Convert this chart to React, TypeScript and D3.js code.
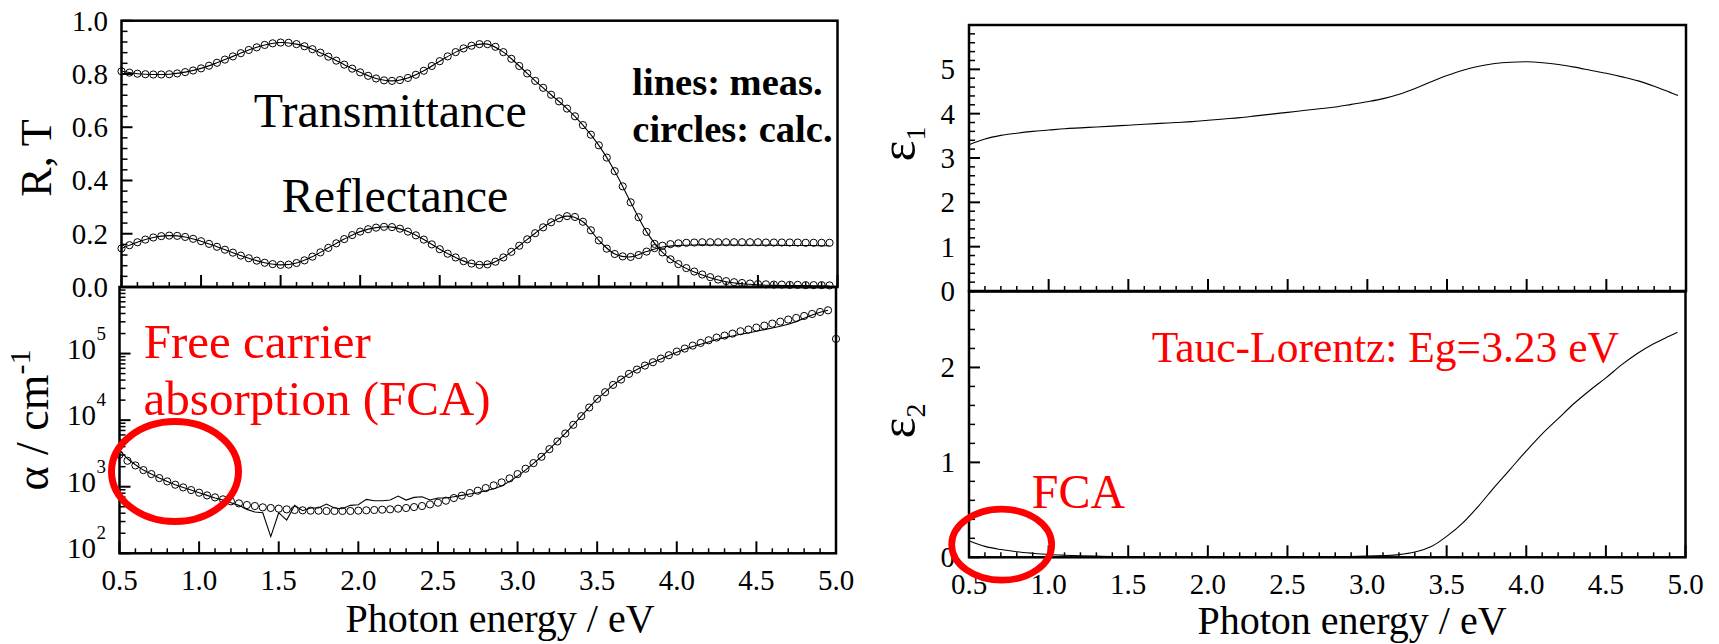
import React from "react";
import * as d3 from "d3";

const SERIF = "Liberation Serif, Times New Roman, Times, serif";
const RED = "#ff0000";

// ---- sampling grids (photon energy, eV) ----
const E_CALC: number[] = d3.range(90).map((i) => 0.5 + i * 0.05); // 0.50 … 4.95
const E_ALPHA_CALC: number[] = d3.range(91).map((i) => 0.5 + i * 0.05); // 0.50 … 5.00
const E_ALPHA_MEAS: number[] = E_CALC;
const E_MEAS: number[] = [...d3.range(45).map((i) => 0.5 + i * 0.1), 4.95];

// ---- tick labels ----
const X_TICKS = [0.5, 1.0, 1.5, 2.0, 2.5, 3.0, 3.5, 4.0, 4.5, 5.0];
const RT_TICKS = [0, 0.2, 0.4, 0.6, 0.8, 1.0];
const ALPHA_DECADES = [2, 3, 4, 5];
const EPS1_TICKS = [0, 1, 2, 3, 4, 5];
const EPS2_TICKS = [0, 1, 2];

// ---- transmittance / reflectance, calculated (circles) ----
const T_CALC = [
  0.810, 0.805, 0.801, 0.799, 0.798, 0.798, 0.799, 0.802, 0.807, 0.813,
  0.821, 0.831, 0.842, 0.854, 0.866, 0.878, 0.890, 0.900, 0.909, 0.915,
  0.918, 0.917, 0.912, 0.904, 0.893, 0.880, 0.865, 0.850, 0.835, 0.820,
  0.806, 0.793, 0.783, 0.776, 0.774, 0.777, 0.785, 0.797, 0.812, 0.830,
  0.848, 0.866, 0.882, 0.896, 0.906, 0.912, 0.912, 0.902, 0.882, 0.857,
  0.830, 0.802, 0.774, 0.748, 0.722, 0.697, 0.670, 0.641, 0.608, 0.572,
  0.532, 0.486, 0.435, 0.378, 0.318, 0.262, 0.207, 0.162, 0.130, 0.104,
  0.086, 0.071, 0.058, 0.047, 0.037, 0.028, 0.022, 0.018, 0.015, 0.013,
  0.011, 0.010, 0.009, 0.009, 0.008, 0.008, 0.007, 0.007, 0.007, 0.006,
];
const R_CALC = [
  0.145, 0.157, 0.168, 0.178, 0.186, 0.191, 0.193, 0.192, 0.188, 0.181,
  0.172, 0.162, 0.151, 0.140, 0.129, 0.118, 0.108, 0.099, 0.091, 0.086,
  0.083, 0.084, 0.090, 0.100, 0.114, 0.130, 0.147, 0.164, 0.180, 0.195,
  0.208, 0.217, 0.223, 0.226, 0.225, 0.219, 0.208, 0.194, 0.178, 0.160,
  0.142, 0.125, 0.111, 0.097, 0.088, 0.083, 0.085, 0.095, 0.111, 0.132,
  0.155, 0.179, 0.202, 0.224, 0.243, 0.258, 0.266, 0.263, 0.245, 0.213,
  0.175, 0.144, 0.124, 0.115, 0.113, 0.120, 0.133, 0.146, 0.155, 0.161,
  0.164, 0.166, 0.167, 0.168, 0.168, 0.168, 0.168, 0.168, 0.168, 0.168,
  0.168, 0.167, 0.167, 0.167, 0.167, 0.167, 0.166, 0.166, 0.166, 0.166,
];

// ---- transmittance / reflectance, measured (lines) ----
const T_MEAS = [
  0.810, 0.801, 0.798, 0.799, 0.807, 0.821, 0.842, 0.866, 0.890, 0.909,
  0.918, 0.912, 0.893, 0.865, 0.835, 0.806, 0.783, 0.774, 0.785, 0.812,
  0.848, 0.882, 0.906, 0.912, 0.882, 0.830, 0.774, 0.722, 0.670, 0.608,
  0.532, 0.435, 0.318, 0.207, 0.130, 0.086, 0.056, 0.035, 0.020, 0.012,
  0.008, 0.006, 0.005, 0.005, 0.004, 0.004,
];
const R_MEAS = [
  0.145, 0.168, 0.186, 0.193, 0.188, 0.172, 0.151, 0.129, 0.108, 0.091,
  0.083, 0.090, 0.114, 0.147, 0.180, 0.208, 0.223, 0.225, 0.208, 0.178,
  0.142, 0.111, 0.088, 0.085, 0.111, 0.155, 0.202, 0.243, 0.266, 0.245,
  0.175, 0.124, 0.113, 0.133, 0.150, 0.156, 0.158, 0.158, 0.158, 0.157,
  0.157, 0.157, 0.156, 0.156, 0.155, 0.155,
];

// ---- absorption coefficient (cm^-1) ----
const ALPHA_CALC = [
  3020, 2455, 2089, 1778, 1549, 1349, 1202, 1072, 977, 891,
  813, 741, 692, 646, 603, 562, 531, 513, 490, 479,
  468, 457, 447, 442, 437, 437, 432, 432, 432, 432,
  437, 442, 447, 452, 457, 468, 479, 495, 513, 543,
  575, 617, 676, 733, 804, 871, 955, 1047, 1161, 1334,
  1549, 1862, 2265, 2818, 3673, 4786, 6310, 8511, 11480, 15490,
  20890, 26300, 33880, 40740, 49550, 57540, 66070, 74130, 84140, 94410,
  107200, 118900, 131800, 144500, 158500, 173800, 186200, 199500, 216300, 229100,
  245500, 263000, 281800, 302000, 323600, 342800, 367300, 393600, 421700, 446700,
  166000,
];
const ALPHA_MEAS = [
  3548, 2630, 2138, 1778, 1549, 1349, 1202, 1072, 977, 891,
  813, 741, 676, 631, 575, 525, 457, 417, 407, 178,
  407, 316, 525, 437, 479, 479, 550, 479, 468, 525,
  537, 646, 617, 617, 631, 724, 631, 692, 708, 631,
  676, 676, 708, 741, 776, 813, 871, 933, 1023, 1202,
  1445, 1778, 2239, 2818, 3673, 4786, 6310, 8511, 11480, 15490,
  20890, 26300, 33880, 40740, 49550, 57540, 66070, 74130, 83180, 93330,
  104700, 116100, 127400, 138000, 149600, 162200, 173800, 184100, 195000, 204200,
  216300, 229100, 242700, 257000, 275400, 302000, 338800, 380200, 416900, 446700,
];

// ---- dielectric function ----
const EPS1 = [
  3.30, 3.43, 3.51, 3.56, 3.60, 3.63, 3.66, 3.68, 3.70, 3.72,
  3.74, 3.76, 3.78, 3.80, 3.82, 3.85, 3.88, 3.91, 3.95, 3.99,
  4.03, 4.07, 4.11, 4.15, 4.21, 4.27, 4.34, 4.44, 4.57, 4.72,
  4.86, 4.98, 5.07, 5.13, 5.16, 5.17, 5.15, 5.11, 5.05, 4.98,
  4.91, 4.83, 4.74, 4.62, 4.48, 4.41,
];
const EPS2 = [
  0.175, 0.115, 0.082, 0.059, 0.043, 0.030, 0.022, 0.016, 0.012, 0.009,
  0.007, 0.006, 0.005, 0.004, 0.004, 0.004, 0.004, 0.004, 0.004, 0.004,
  0.004, 0.005, 0.006, 0.007, 0.009, 0.012, 0.018, 0.028, 0.055, 0.110,
  0.220, 0.360, 0.540, 0.740, 0.930, 1.120, 1.300, 1.460, 1.620, 1.760,
  1.890, 2.030, 2.150, 2.250, 2.330, 2.370,
];

type Box = { x0: number; x1: number; y0: number; y1: number };

const LT: Box = { x0: 121.5, x1: 837.5, y0: 20.7, y1: 287 };
const LB: Box = { x0: 119.5, x1: 836, y0: 287, y1: 553.3 };
const RT: Box = { x0: 969, x1: 1686, y0: 25, y1: 291 };
const RB: Box = { x0: 969, x1: 1685.5, y0: 291.5, y1: 557.3 };

const X_MINORS = d3.range(5, 51).filter((i) => i % 5 !== 0).map((i) => i / 10);

const TXT: React.CSSProperties = { fontFamily: SERIF };

function Frame({ b }: { b: Box }) {
  return (
    <rect x={b.x0} y={b.y0} width={b.x1 - b.x0} height={b.y1 - b.y0}
      fill="none" stroke="#000" strokeWidth={2.5} />
  );
}

function BottomAxis({ sx, b, labels }: { sx: d3.ScaleLinear<number, number>; b: Box; labels: boolean }) {
  const fmt = d3.format(".1f");
  return (
    <g>
      {X_TICKS.map((v) => (
        <line key={"M" + v} x1={sx(v)} x2={sx(v)} y1={b.y1} y2={b.y1 - 12} stroke="#000" strokeWidth={2} />
      ))}
      {X_MINORS.map((v) => (
        <line key={"m" + v} x1={sx(v)} x2={sx(v)} y1={b.y1} y2={b.y1 - 5} stroke="#000" strokeWidth={1.5} />
      ))}
      {labels &&
        X_TICKS.map((v) => (
          <text key={"t" + v} x={sx(v)} y={b.y1 + 37} textAnchor="middle" fontSize={29} style={TXT}>
            {fmt(v)}
          </text>
        ))}
    </g>
  );
}

function LeftTicks({ sy, b, majors, minors }: { sy: (v: number) => number; b: Box; majors: number[]; minors: number[] }) {
  return (
    <g>
      {majors.map((v) => (
        <line key={"M" + v} x1={b.x0} x2={b.x0 + 11} y1={sy(v)} y2={sy(v)} stroke="#000" strokeWidth={2} />
      ))}
      {minors.map((v) => (
        <line key={"m" + v} x1={b.x0} x2={b.x0 + 6} y1={sy(v)} y2={sy(v)} stroke="#000" strokeWidth={1.5} />
      ))}
    </g>
  );
}

export default function App() {
  // scales
  const xLT = d3.scaleLinear().domain([0.5, 5]).range([LT.x0, LT.x1]);
  const yLT = d3.scaleLinear().domain([0, 1]).range([LT.y1, LT.y0]);
  const xLB = d3.scaleLinear().domain([0.5, 5]).range([LB.x0, LB.x1]);
  const yLB = d3.scaleLog().domain([1e2, 1e6]).range([LB.y1, LB.y0]);
  const xRT = d3.scaleLinear().domain([0.5, 5]).range([RT.x0, RT.x1]);
  const yRT = d3.scaleLinear().domain([0, 6]).range([RT.y1, RT.y0]);
  const xRB = d3.scaleLinear().domain([0.5, 5]).range([RB.x0, RB.x1]);
  const yRB = d3.scaleLinear().domain([0, 2.8]).range([RB.y1, RB.y0]);

  const mkLine = (E: number[], sx: any, sy: any, smooth: boolean) =>
    d3
      .line<number>()
      .x((_, i) => sx(E[i]))
      .y((d) => sy(d))
      .curve(smooth ? d3.curveCatmullRom.alpha(0.5) : d3.curveLinear);

  const fmt1 = d3.format(".1f");

  const rtMinors = d3.range(0, 26).filter((i) => i % 5 !== 0).map((i) => i * 0.04);
  const eps1Minors = d3.range(0, 31).filter((i) => i % 5 !== 0).map((i) => i * 0.2);
  const eps2Minors = d3.range(0, 15).filter((i) => i % 5 !== 0).map((i) => i * 0.2);
  const logMajors = [1e2, 1e3, 1e4, 1e5, 1e6];
  const logMinors: number[] = [];
  for (let k = 2; k < 6; k++) for (let m = 2; m <= 9; m++) logMinors.push(m * Math.pow(10, k));

  const circles = (E: number[], vals: number[], sx: any, sy: any, key: string) =>
    vals.map((v, i) => (
      <circle key={key + i} cx={sx(E[i])} cy={sy(v)} r={3.6} fill="none" stroke="#000" strokeWidth={1} />
    ));

  return (
    <svg width={1719} height={644} style={{ position: "absolute", left: 0, top: 0, background: "#fff", fontFamily: SERIF }}>
      {/* ===== R, T panel ===== */}
      <path d={mkLine(E_MEAS, xLT, yLT, true)(T_MEAS) || ""} fill="none" stroke="#000" strokeWidth={1.1} />
      <path d={mkLine(E_MEAS, xLT, yLT, true)(R_MEAS) || ""} fill="none" stroke="#000" strokeWidth={1.1} />
      {circles(E_CALC, T_CALC, xLT, yLT, "t")}
      {circles(E_CALC, R_CALC, xLT, yLT, "r")}
      <Frame b={LT} />
      <BottomAxis sx={xLT} b={LT} labels={false} />
      <LeftTicks sy={yLT} b={LT} majors={RT_TICKS} minors={rtMinors} />
      {RT_TICKS.map((v) => (
        <text key={"rt" + v} x={108} y={yLT(v) + 10} textAnchor="end" fontSize={29} style={TXT}>{fmt1(v)}</text>
      ))}
      <text transform="translate(51,158) rotate(-90)" textAnchor="middle" fontSize={44} style={TXT}>R, T</text>
      <text x={526.7} y={127} textAnchor="end" fontSize={48} style={TXT}>Transmittance</text>
      <text x={508.3} y={212} textAnchor="end" fontSize={48} style={TXT}>Reflectance</text>
      <text x={632.3} y={95} fontSize={38.5} fontWeight="bold" style={TXT}>lines: meas.</text>
      <text x={632.3} y={141.7} fontSize={38.5} fontWeight="bold" style={TXT}>circles: calc.</text>

      {/* ===== absorption coefficient panel ===== */}
      <path d={mkLine(E_ALPHA_MEAS, xLB, yLB, false)(ALPHA_MEAS) || ""} fill="none" stroke="#000" strokeWidth={1.1} />
      {circles(E_ALPHA_CALC, ALPHA_CALC, xLB, yLB, "a")}
      <Frame b={LB} />
      <BottomAxis sx={xLB} b={LB} labels={true} />
      <LeftTicks sy={yLB} b={LB} majors={logMajors} minors={logMinors} />
      {ALPHA_DECADES.map((k) => (
        <g key={"dec" + k}>
          <text x={96} y={yLB(Math.pow(10, k)) + 5} textAnchor="end" fontSize={29} style={TXT}>10</text>
          <text x={96.5} y={yLB(Math.pow(10, k)) - 14} textAnchor="start" fontSize={19} style={TXT}>{k}</text>
        </g>
      ))}
      <text transform="translate(48,420) rotate(-90)" textAnchor="middle" fontSize={46} style={TXT}>
        α / cm<tspan fontSize={30} dy={-18}>-1</tspan>
      </text>
      <text x={143.7} y={358} fontSize={49} fill={RED} style={TXT}>Free carrier</text>
      <text x={490.7} y={415} textAnchor="end" fontSize={49} fill={RED} style={TXT}>absorption (FCA)</text>
      <ellipse cx={175} cy={471.5} rx={63.5} ry={50} fill="none" stroke={RED} strokeWidth={7} />

      {/* ===== epsilon 1 panel ===== */}
      <path d={mkLine(E_MEAS, xRT, yRT, true)(EPS1) || ""} fill="none" stroke="#000" strokeWidth={1.1} />
      <Frame b={RT} />
      <BottomAxis sx={xRT} b={RT} labels={false} />
      <LeftTicks sy={yRT} b={RT} majors={[0, 1, 2, 3, 4, 5, 6]} minors={eps1Minors} />
      {EPS1_TICKS.map((v) => (
        <text key={"e1" + v} x={955} y={yRT(v) + 10} textAnchor="end" fontSize={29} style={TXT}>{v}</text>
      ))}
      <text transform="translate(915,144) rotate(-90)" textAnchor="middle" fontSize={50} style={TXT}>
        ε<tspan fontSize={28} dy={10}>1</tspan>
      </text>

      {/* ===== epsilon 2 panel ===== */}
      <path d={mkLine(E_MEAS, xRB, yRB, true)(EPS2) || ""} fill="none" stroke="#000" strokeWidth={1.1} />
      <Frame b={RB} />
      <BottomAxis sx={xRB} b={RB} labels={true} />
      <LeftTicks sy={yRB} b={RB} majors={EPS2_TICKS} minors={eps2Minors} />
      {EPS2_TICKS.map((v) => (
        <text key={"e2" + v} x={955} y={yRB(v) + 10} textAnchor="end" fontSize={29} style={TXT}>{v}</text>
      ))}
      <text transform="translate(915,421) rotate(-90)" textAnchor="middle" fontSize={50} style={TXT}>
        ε<tspan fontSize={28} dy={10}>2</tspan>
      </text>
      <text x={1151.7} y={361.7} fontSize={43.5} fill={RED} style={TXT}>Tauc-Lorentz: Eg=3.23 eV</text>
      <text x={1031.7} y={508.3} fontSize={48} fill={RED} style={TXT}>FCA</text>
      <ellipse cx={1001.7} cy={544.7} rx={50} ry={35.5} fill="none" stroke={RED} strokeWidth={6.7} />

      {/* ===== x-axis titles ===== */}
      <text x={500} y={632} textAnchor="middle" fontSize={40} style={TXT}>Photon energy / eV</text>
      <text x={1352} y={634} textAnchor="middle" fontSize={40} style={TXT}>Photon energy / eV</text>
    </svg>
  );
}
